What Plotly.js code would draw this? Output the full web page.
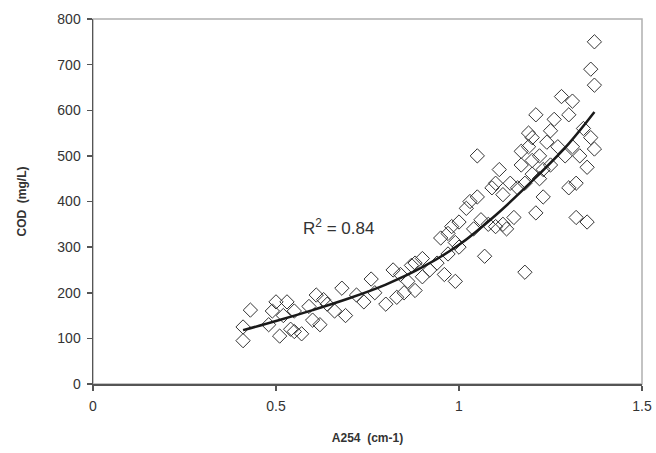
<!DOCTYPE html>
<html>
<head>
<meta charset="utf-8">
<script src="https://cdn.plot.ly/plotly-3.0.1.min.js"></script>
<style>html,body{margin:0;padding:0;background:#fff;}#chart{width:656px;height:453px;}</style>
</head>
<body>
<div id="chart"></div>
<script>
// Observed samples: A254 absorbance (cm-1) vs COD (mg/L)
const a254 = [
  0.41, 0.41, 0.43,
  0.48, 0.49, 0.50, 0.51, 0.52, 0.53, 0.54, 0.55, 0.55,
  0.57, 0.59, 0.60, 0.61, 0.62, 0.63, 0.64, 0.66,
  0.68, 0.69, 0.72, 0.74, 0.76, 0.77,
  0.80, 0.82, 0.83, 0.84, 0.85, 0.86, 0.87, 0.88, 0.88, 0.90, 0.90, 0.92,
  0.94, 0.95, 0.96, 0.97, 0.97, 0.98, 0.99, 0.99, 1.00, 1.00,
  1.02, 1.03, 1.04, 1.05, 1.05, 1.06, 1.07, 1.08, 1.09, 1.10, 1.10, 1.11, 1.12, 1.12, 1.13,
  1.14, 1.15, 1.16, 1.17, 1.17, 1.18, 1.18, 1.19, 1.19, 1.20, 1.20, 1.20,
  1.21, 1.21, 1.22, 1.22, 1.23, 1.23, 1.24, 1.25, 1.25, 1.26, 1.27, 1.28, 1.29, 1.30, 1.30, 1.31, 1.31, 1.32, 1.32,
  1.33, 1.34, 1.35, 1.35, 1.36, 1.36, 1.37, 1.37, 1.37
];
const cod = [
  95, 125, 162,
  130, 160, 180, 105, 150, 180, 120, 115, 160,
  110, 170, 140, 195, 130, 185, 175, 160,
  210, 150, 195, 180, 230, 200,
  175, 250, 190, 240, 200, 225, 260, 205, 265, 275, 235, 250,
  265, 320, 240, 285, 330, 345, 310, 225, 355, 300,
  385, 400, 340, 410, 500, 360, 280, 350, 430, 345, 440, 470, 415, 350, 340,
  440, 365, 430, 480, 510, 245, 440, 520, 550, 490, 460, 540,
  375, 590, 500, 450, 470, 410, 530, 555, 480, 580, 520, 630, 500, 430, 590, 520, 620, 365, 440,
  500, 560, 475, 355, 540, 690, 750, 515, 655
];
// Trendline
const trendX = [0.41, 0.50, 0.60, 0.70, 0.80, 0.90, 1.00, 1.10, 1.20, 1.30, 1.37];
const trendY = [118, 138, 162, 188, 218, 256, 305, 370, 445, 527, 596];
const xTicks = [0, 0.5, 1, 1.5];
const xTickText = ["0", "0.5", "1", "1.5"];
const yTicks = [0, 100, 200, 300, 400, 500, 600, 700, 800];

const data = [
  {
    x: a254, y: cod, type: 'scatter', mode: 'markers',
    marker: {symbol: 'diamond-open', size: 11, color: '#333', line: {width: 1, color: '#333'}},
    hoverinfo: 'x+y'
  },
  {
    x: trendX, y: trendY, type: 'scatter', mode: 'lines',
    line: {color: '#1a1a1a', width: 2.5, shape: 'spline'},
    hoverinfo: 'skip'
  }
];

const layout = {
  width: 656, height: 453,
  margin: {l: 93, r: 14, t: 19, b: 69},
  paper_bgcolor: '#fff', plot_bgcolor: '#fff',
  showlegend: false,
  font: {family: 'Liberation Sans, Arial, sans-serif', color: '#333', size: 14},
  xaxis: {
    range: [0, 1.5], tickvals: xTicks, ticktext: xTickText,
    showgrid: false, zeroline: false,
    showline: true, linecolor: '#555', linewidth: 1.5,
    ticks: 'outside', ticklen: 5, tickcolor: '#555', tickwidth: 1.5,
    ticklabelstandoff: 4,
    tickfont: {size: 14, color: '#333'},
    title: {text: '<b>A254  (cm-1)</b>', font: {size: 12, color: '#333'}, standoff: 20}
  },
  yaxis: {
    range: [0, 800], tickvals: yTicks,
    showgrid: false, zeroline: false,
    showline: true, linecolor: '#555', linewidth: 1.5,
    ticks: 'outside', ticklen: 5, tickcolor: '#555', tickwidth: 1.5,
    ticklabelstandoff: 3,
    tickfont: {size: 14, color: '#333'},
    title: {text: '<b>COD  (mg/L)</b>', font: {size: 12, color: '#333'}, standoff: 28}
  },
  shapes: [
    {type: 'rect', xref: 'paper', yref: 'paper', x0: 0, x1: 1, y0: 0, y1: 1,
     line: {color: '#b0b0b0', width: 1.5}, layer: 'below'}
  ],
  annotations: [
    {x: 0.67, y: 344, xref: 'x', yref: 'y', text: 'R<sup>2</sup> = 0.84', showarrow: false,
     font: {size: 17, color: '#333'}}
  ]
};

Plotly.newPlot('chart', data, layout, {displayModeBar: false, staticPlot: true});
</script>
</body>
</html>
